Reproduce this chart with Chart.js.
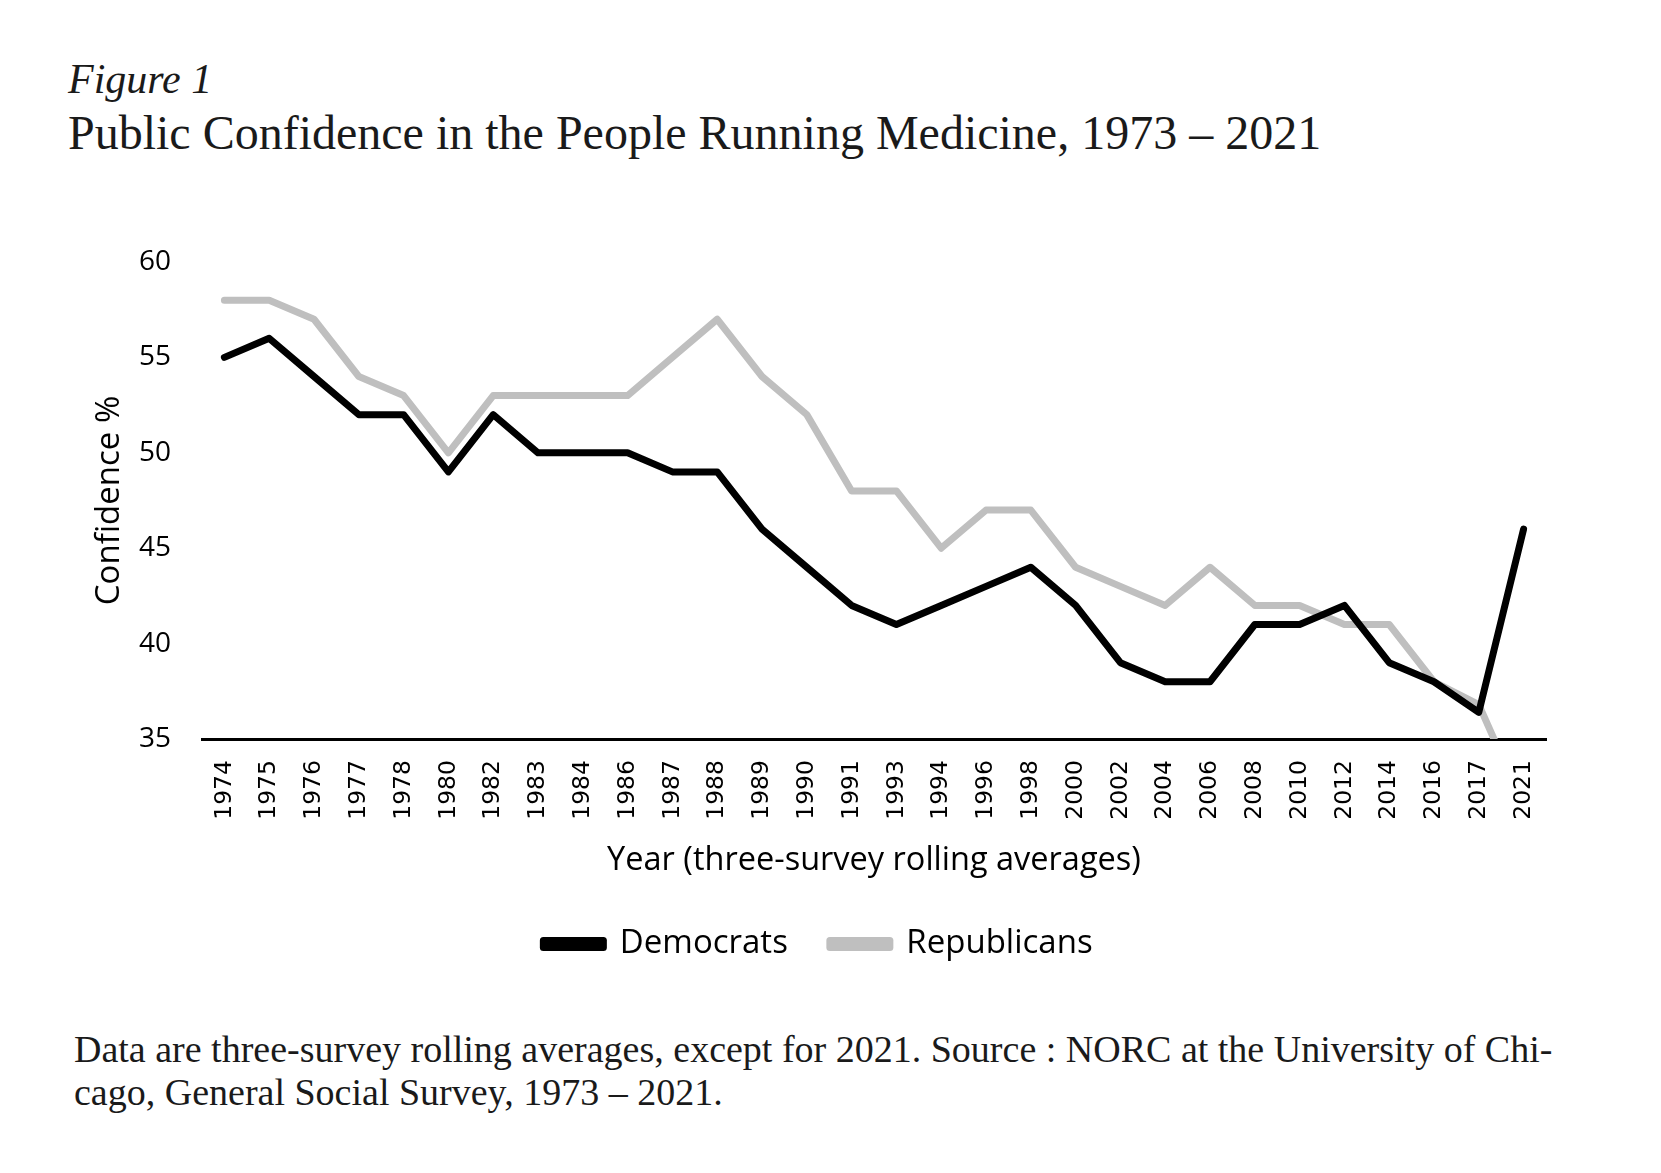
<!DOCTYPE html>
<html>
<head>
<meta charset="utf-8">
<title>Public Confidence in the People Running Medicine</title>
<script src="https://cdn.jsdelivr.net/npm/chart.js@4.4.1/dist/chart.umd.min.js"></script>
<style>
  html, body { margin: 0; padding: 0; background: #fff; }
  body { width: 1661px; height: 1173px; position: relative; overflow: hidden; }
  .serif { font-family: "Liberation Serif", "DejaVu Serif", serif; color: #1a1a1a; position: absolute; white-space: nowrap; }
  #fig { left: 68px; top: 58px; font-size: 42px; line-height: 42px; font-style: italic; }
  #title { left: 68px; top: 109px; font-size: 48px; line-height: 48px; }
  #note { left: 74px; top: 1028px; font-size: 38px; line-height: 43px; }
  #wrap { position: absolute; left: 90px; top: 200px; width: 1560px; height: 800px; }
</style>
</head>
<body>
<div id="fig" class="serif">Figure 1</div>
<div id="title" class="serif">Public Confidence in the People Running Medicine, 1973 – 2021</div>
<div id="note" class="serif">Data are three-survey rolling averages, except for 2021. Source : NORC at the University of Chi-<br>cago, General Social Survey, 1973 – 2021.</div>
<div id="wrap"><canvas id="lineChart"></canvas></div>
<script>
const years = ["1974", "1975", "1976", "1977", "1978", "1980", "1982", "1983", "1984", "1986",
  "1987", "1988", "1989", "1990", "1991", "1993", "1994", "1996", "1998", "2000",
  "2002", "2004", "2006", "2008", "2010", "2012", "2014", "2016", "2017", "2021"];
const democrats = [55, 56, 54, 52, 52, 49, 52, 50, 50, 50,
  49, 49, 46, 44, 42, 41, 42, 43, 44, 42,
  39, 38, 38, 41, 41, 42, 39, 38, 36.4, 46];
const republicans = [58, 58, 57, 54, 53, 50, 53, 53, 53, 53,
  55, 57, 54, 52, 48, 48, 45, 47, 47, 44,
  43, 42, 44, 42, 42, 41, 41, 38, 36.8, 31.5];
const yTicks = [35, 40, 45, 50, 55, 60];

const sansFont = "'Open Sans', 'Noto Sans', sans-serif";

const lineChart = document.querySelector("#lineChart");
const myChart = new Chart(lineChart, {
  type: "line",
  data: {
    labels: years,
    datasets: [
      {
        label: "Democrats",
        data: democrats,
        borderColor: "#000000",
        backgroundColor: "#000000",
        borderWidth: 7,
        pointRadius: 0,
        tension: 0,
        borderJoinStyle: "round",
        borderCapStyle: "round",
      },
      {
        label: "Republicans",
        data: republicans,
        borderColor: "#bfbfbf",
        backgroundColor: "#bfbfbf",
        borderWidth: 7,
        pointRadius: 0,
        tension: 0,
        borderJoinStyle: "round",
        borderCapStyle: "round",
      },
    ],
  },
  options: {
    responsive: true,
    maintainAspectRatio: false,
    animation: false,
    layout: {
      padding: { top: 62, bottom: 29.5, left: 0, right: 104 },
    },
    plugins: {
      legend: {
        position: "bottom",
        labels: {
          color: "#000",
          font: { family: sansFont, size: 33 },
          boxWidth: 60,
          boxHeight: 7,
          padding: 42,
        },
      },
      tooltip: { enabled: false },
    },
    scales: {
      x: {
        offset: true,
        grid: { display: false, drawTicks: false },
        border: { display: true, color: "#000", width: 3 },
        ticks: {
          color: "#000",
          font: { family: "'DejaVu Sans', sans-serif", size: 23.5 },
          minRotation: 90,
          maxRotation: 90,
          autoSkip: false,
          padding: 21,
        },
        title: {
          display: true,
          text: "Year (three-survey rolling averages)",
          color: "#000",
          font: { family: sansFont, size: 32.5 },
          padding: { top: 0, bottom: 5 },
        },
        afterFit: (scale) => { scale.height = 146.5; },
      },
      y: {
        min: 35,
        max: 60,
        grid: { display: false, drawTicks: false },
        border: { display: false },
        afterBuildTicks: (scale) => { scale.ticks = yTicks.map((v) => ({ value: v })); },
        ticks: {
          color: "#000",
          font: { family: sansFont, size: 28 },
          padding: 31,
        },
        title: {
          display: true,
          text: "Confidence %",
          color: "#000",
          font: { family: sansFont, size: 33 },
          padding: { top: 0, bottom: 0 },
        },
        afterFit: (scale) => { scale.width = 112; },
      },
    },
  },
});
</script>
</body>
</html>
